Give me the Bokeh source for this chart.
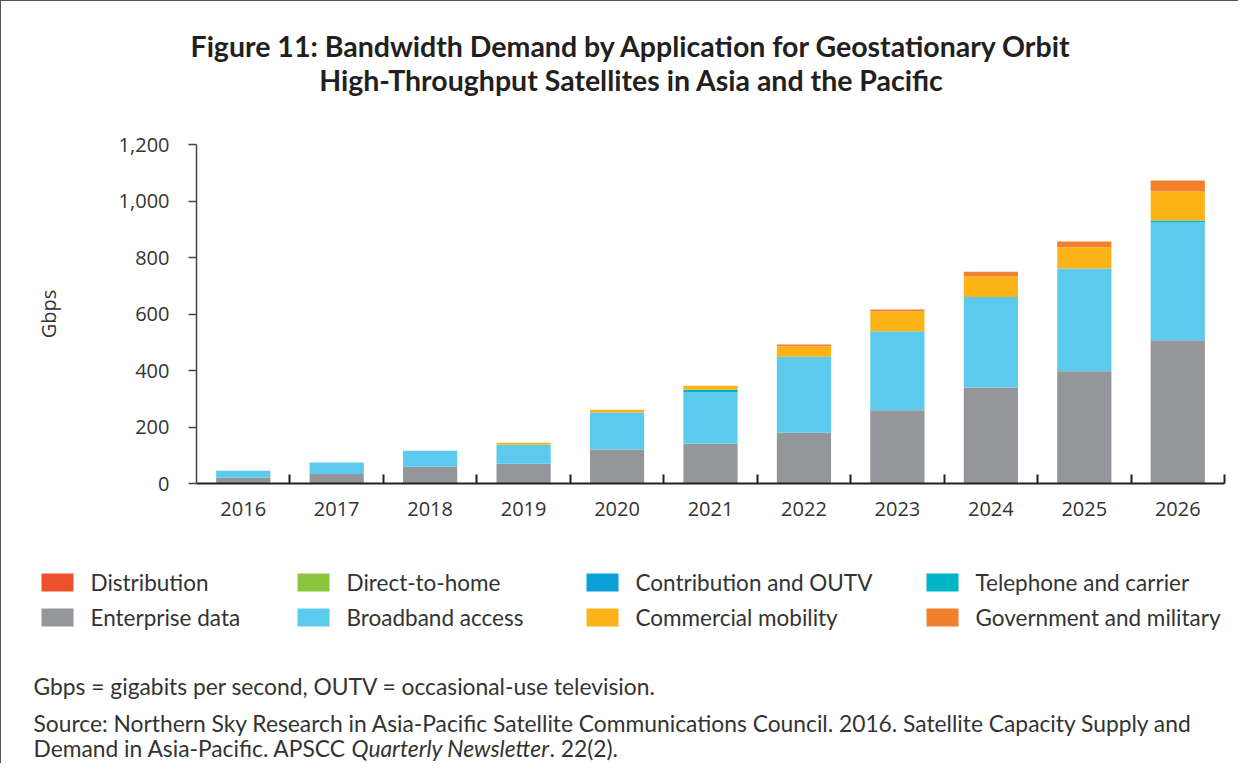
from bokeh.plotting import figure
from bokeh.layouts import column, row
from bokeh.models import Range1d, FixedTicker, NumeralTickFormatter, Label
from bokeh.embed import file_html
from bokeh.resources import INLINE

# ---------------- data ----------------
years = [2016, 2017, 2018, 2019, 2020, 2021, 2022, 2023, 2024, 2025, 2026]
enterprise = [20, 34, 59, 70, 120, 142, 180, 259, 340, 397, 507]
broadband = [25, 40, 57, 67, 131, 180, 269, 280, 320, 364, 417]
telephone = [0, 0, 0, 0, 0, 10, 0, 0, 0, 0, 7]
mobility = [0, 0, 0, 7, 10, 14, 36, 70, 73, 75, 103]
government = [0, 0, 0, 0, 0, 0, 7, 7, 17, 21, 39]
distribution = [0] * 11
direct_to_home = [0] * 11
contribution = [0] * 11

legend_labels = ["Distribution", "Direct-to-home", "Contribution and OUTV", "Telephone and carrier",
                 "Enterprise data", "Broadband access", "Commercial mobility", "Government and military"]
y_ticks = [0, 200, 400, 600, 800, 1000, 1200]

title_lines = ["Figure 11: Bandwidth Demand by Application for Geostationary Orbit",
               "High-Throughput Satellites in Asia and the Pacific"]
note_line = "Gbps = gigabits per second, OUTV = occasional-use television."
source_line1 = ("Source: Northern Sky Research in Asia-Pacific Satellite Communications Council. 2016. "
                "Satellite Capacity Supply and")
source_line2_a = "Demand in Asia-Pacific. APSCC"
source_line2_b = "Quarterly Newsletter"
source_line2_c = ". 22(2)."

colors = {
    "Distribution": "#ee4f2d",
    "Direct-to-home": "#8cc63f",
    "Contribution and OUTV": "#0b9fd9",
    "Telephone and carrier": "#00b4c6",
    "Enterprise data": "#959699",
    "Broadband access": "#5ccaed",
    "Commercial mobility": "#fbb317",
    "Government and military": "#f3812c",
}

W = 1237
TOP_H, CHART_H, BOT_H = 100, 430, 232
TEXT = "#333333"


def text_panel(h):
    f = figure(width=W, height=h, output_backend="svg", toolbar_location=None,
               x_range=Range1d(0, W), y_range=Range1d(h, 0),
               x_axis_location=None, y_axis_location=None, min_border=0)
    f.outline_line_color = None
    f.xgrid.grid_line_color = None
    f.ygrid.grid_line_color = None
    return f


def add_text(f, x, y, text, size="22.8px", style="normal", align="left", color=TEXT, font="Lato"):
    f.add_layout(Label(x=x, y=y, text=text, text_font=font, text_font_size=size,
                       text_font_style=style, text_align=align, text_baseline="middle",
                       text_color=color))


# ---------------- title panel ----------------
top = text_panel(TOP_H)
add_text(top, 630, 44, title_lines[0], size="28.5px", style="bold", align="center", color="#231f20")
add_text(top, 630, 78, title_lines[1], size="28.5px", style="bold", align="center", color="#231f20")

# ---------------- chart ----------------
FL, FR, FT, FB = 195, 1223, 43, 382  # frame box inside chart canvas
p = figure(width=W, height=CHART_H, output_backend="svg", toolbar_location=None,
           x_range=Range1d(years[0] - 0.5, years[-1] + 0.5), y_range=Range1d(0, 1200),
           min_border_left=FL, min_border_right=W - FR, min_border_top=FT,
           min_border_bottom=CHART_H - FB)
p.outline_line_color = None
p.xgrid.grid_line_color = None
p.ygrid.grid_line_color = None

data = dict(year=years, enterprise=enterprise, broadband=broadband, telephone=telephone,
            mobility=mobility, government=government, distribution=distribution,
            dth=direct_to_home, contribution=contribution)
stack_keys = ["enterprise", "broadband", "telephone", "mobility", "government"]
stack_names = ["Enterprise data", "Broadband access", "Telephone and carrier", "Commercial mobility",
               "Government and military"]
p.vbar_stack(stack_keys, x="year", width=0.58, source=data,
             color=[colors[n] for n in stack_names], line_color=None)

xa = p.xaxis[0]
xa.ticker = FixedTicker(ticks=years, minor_ticks=[y + 0.5 for y in years])
xa.major_label_overrides = {y: str(y) for y in years}
xa.major_tick_line_color = None
xa.minor_tick_in = 9
xa.minor_tick_out = 0
xa.minor_tick_line_color = "#231f20"
xa.minor_tick_line_width = 2
xa.axis_line_color = "#231f20"
xa.axis_line_width = 2
xa.major_label_text_font = "Open Sans"
xa.major_label_text_font_size = "20px"
xa.major_label_text_color = TEXT
xa.major_label_standoff = 12

ya = p.yaxis[0]
ya.ticker = FixedTicker(ticks=y_ticks)
ya.formatter = NumeralTickFormatter(format="0,0")
ya.major_tick_in = 0
ya.major_tick_out = 8
ya.major_tick_line_color = "#444444"
ya.major_tick_line_width = 1.5
ya.minor_tick_line_color = None
ya.axis_line_color = "#444444"
ya.axis_line_width = 1.5
ya.major_label_text_font = "Open Sans"
ya.major_label_text_font_size = "20px"
ya.major_label_text_color = TEXT
ya.major_label_standoff = 19
ya.axis_label = "Gbps"
ya.axis_label_text_font = "Open Sans"
ya.axis_label_text_font_style = "normal"
ya.axis_label_text_font_size = "20px"
ya.axis_label_text_color = TEXT
ya.axis_label_standoff = 54

# ---------------- legend + notes panel ----------------
bot = text_panel(BOT_H)
col_x = [40, 296, 585, 925]
row_y = [51, 86]
sw_left, sw_right, sw_top, sw_bottom, sw_color = [], [], [], [], []
for i, name in enumerate(legend_labels):
    r, c = divmod(i, 4)
    sw_left.append(col_x[c])
    sw_right.append(col_x[c] + 32)
    sw_top.append(row_y[r] - 9)
    sw_bottom.append(row_y[r] + 9)
    sw_color.append(colors[name])
    add_text(bot, col_x[c] + 49, row_y[r], name, size="22.5px")
bot.quad(left=sw_left, right=sw_right, top=sw_top, bottom=sw_bottom, fill_color=sw_color,
         line_color=None)

add_text(bot, 32, 154, note_line)
add_text(bot, 32, 191, source_line1)
add_text(bot, 32, 216, source_line2_a)
add_text(bot, 350, 216, source_line2_b, style="italic")
add_text(bot, 548, 216, source_line2_c)

layout = column(row(top), p, row(bot), spacing=0)
layout.styles = {"border-left": "1px solid #555555", "border-top": "1px solid #555555"}

open("out.html", "w").write(file_html(layout, INLINE))
